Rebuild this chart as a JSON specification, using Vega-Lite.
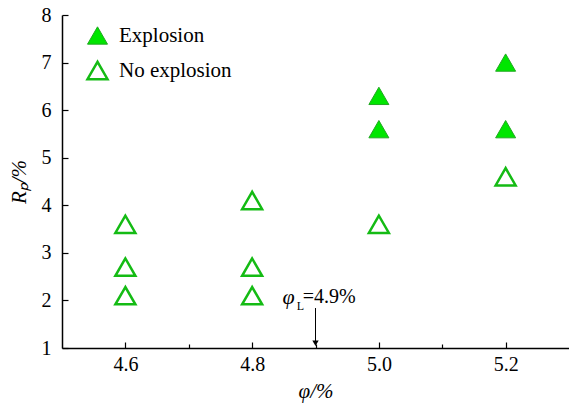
{
  "$schema": "https://vega.github.io/schema/vega-lite/v6.json",
  "width": 507,
  "height": 333,
  "autosize": "none",
  "padding": {"left": 62, "top": 15, "right": 0, "bottom": 57},
  "background": "white",
  "config": {
    "view": {"stroke": null},
    "font": "Liberation Serif",
    "axis": {
      "labelFont": "Liberation Serif",
      "titleFont": "Liberation Serif",
      "labelFontSize": 20,
      "titleFontSize": 21,
      "labelColor": "black",
      "titleColor": "black",
      "domainColor": "black",
      "domainWidth": 1.5,
      "tickColor": "black",
      "tickWidth": 1.2,
      "grid": false
    },
    "legend": {"labelFont": "Liberation Serif"},
    "text": {"font": "Liberation Serif"}
  },
  "datasets": {
    "points": [
      {"phi": 4.6, "rp": 3.6, "type": "No explosion"},
      {"phi": 4.6, "rp": 2.7, "type": "No explosion"},
      {"phi": 4.6, "rp": 2.1, "type": "No explosion"},
      {"phi": 4.8, "rp": 4.1, "type": "No explosion"},
      {"phi": 4.8, "rp": 2.7, "type": "No explosion"},
      {"phi": 4.8, "rp": 2.1, "type": "No explosion"},
      {"phi": 5.0, "rp": 3.6, "type": "No explosion"},
      {"phi": 5.2, "rp": 4.6, "type": "No explosion"},
      {"phi": 5.0, "rp": 6.3, "type": "Explosion"},
      {"phi": 5.0, "rp": 5.6, "type": "Explosion"},
      {"phi": 5.2, "rp": 7.0, "type": "Explosion"},
      {"phi": 5.2, "rp": 5.6, "type": "Explosion"}
    ]
  },
  "layer": [
    {
      "mark": {"type": "rule", "color": "black", "strokeWidth": 1.5},
      "encoding": {"y": {"datum": 8, "type": "quantitative"}}
    },
    {
      "mark": {"type": "rule", "color": "black", "strokeWidth": 1, "strokeDash": [6, 5]},
      "encoding": {"y": {"datum": 5, "type": "quantitative"}}
    },
    {
      "data": {"values": [{"x": 4.9, "y1": 1.84, "y2": 1.14}]},
      "mark": {"type": "rule", "color": "black", "strokeWidth": 1},
      "encoding": {
        "x": {"field": "x", "type": "quantitative"},
        "y": {"field": "y1", "type": "quantitative"},
        "y2": {"field": "y2"}
      }
    },
    {
      "data": {"values": [{"x": 4.9, "y": 1.1}]},
      "mark": {"type": "point", "shape": "triangle-down", "size": 40, "filled": true, "color": "black", "opacity": 1},
      "encoding": {
        "x": {"field": "x", "type": "quantitative"},
        "y": {"field": "y", "type": "quantitative"}
      }
    },
    {
      "data": {"values": [{"x": 4.848, "y": 2.07, "t": "φ"}]},
      "mark": {"type": "text", "align": "left", "baseline": "middle", "fontSize": 22, "fontStyle": "italic", "color": "black"},
      "encoding": {
        "x": {"field": "x", "type": "quantitative"},
        "y": {"field": "y", "type": "quantitative"},
        "text": {"field": "t"}
      }
    },
    {
      "data": {"values": [{"x": 4.8705, "y": 1.88, "t": "L"}]},
      "mark": {"type": "text", "align": "left", "baseline": "middle", "fontSize": 12, "color": "black"},
      "encoding": {
        "x": {"field": "x", "type": "quantitative"},
        "y": {"field": "y", "type": "quantitative"},
        "text": {"field": "t"}
      }
    },
    {
      "data": {"values": [{"x": 4.88, "y": 2.08, "t": "=4.9%"}]},
      "mark": {"type": "text", "align": "left", "baseline": "middle", "fontSize": 20, "color": "black"},
      "encoding": {
        "x": {"field": "x", "type": "quantitative"},
        "y": {"field": "y", "type": "quantitative"},
        "text": {"field": "t"}
      }
    },
    {
      "data": {"name": "points"},
      "mark": {"type": "point", "shape": "triangle-up", "size": 400, "opacity": 1, "filled": false},
      "encoding": {
        "x": {
          "field": "phi",
          "type": "quantitative",
          "scale": {"domain": [4.5, 5.3], "nice": false, "zero": false},
          "axis": {
            "title": "φ/%",
            "titleFontStyle": "italic",
            "titleFontWeight": "normal",
            "values": [4.6, 4.7, 4.8, 4.9, 5.0, 5.1, 5.2],
            "format": ".1f",
            "labelExpr": "round(datum.value*10) % 2 == 0 ? datum.label : ''",
            "tickSize": {"condition": {"test": "round(datum.value*10) % 2 == 0", "value": -6}, "value": -4},
            "labelPadding": 12,
            "titlePadding": 6
          }
        },
        "y": {
          "field": "rp",
          "type": "quantitative",
          "scale": {"domain": [1, 8], "nice": false, "zero": false},
          "axis": {
            "title": "Rₚ/%",
            "titleFontStyle": "italic",
            "titleFontWeight": "normal",
            "values": [1, 1.5, 2, 2.5, 3, 3.5, 4, 4.5, 5, 5.5, 6, 6.5, 7, 7.5, 8],
            "labelExpr": "datum.value % 1 == 0 ? datum.label : ''",
            "tickSize": {"condition": {"test": "datum.value % 1 == 0", "value": -6}, "value": -4},
            "labelPadding": 17,
            "titlePadding": 12
          }
        },
        "fill": {
          "field": "type",
          "type": "nominal",
          "scale": {"domain": ["Explosion", "No explosion"], "range": ["#00e600", "#ffffff"]},
          "legend": {
            "title": null,
            "orient": "none",
            "legendX": 24,
            "legendY": 10,
            "labelFontSize": 21,
            "labelColor": "black",
            "symbolType": "triangle-up",
            "symbolSize": 400,
            "labelOffset": 10,
            "rowPadding": 9,
            "padding": 0
          }
        },
        "stroke": {
          "field": "type",
          "type": "nominal",
          "scale": {"domain": ["Explosion", "No explosion"], "range": ["#22a822", "#14bb14"]}
        },
        "strokeWidth": {
          "field": "type",
          "type": "nominal",
          "scale": {"domain": ["Explosion", "No explosion"], "range": [1, 2.5]}
        }
      }
    }
  ]
}
